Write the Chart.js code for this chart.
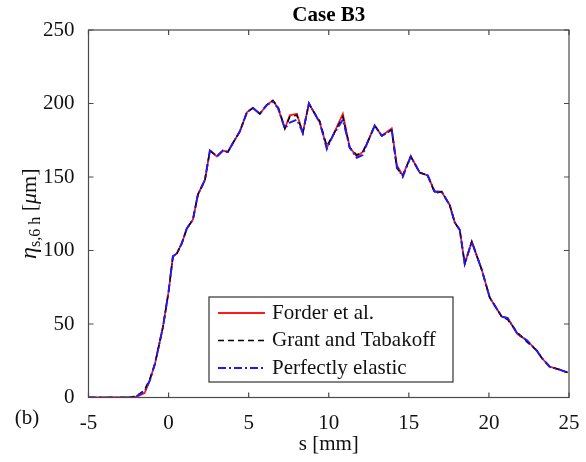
<!DOCTYPE html>
<html>
<head>
<meta charset="utf-8">
<script src="https://cdn.jsdelivr.net/npm/chart.js@4.4.1/dist/chart.umd.min.js"></script>
<style>
html,body{margin:0;padding:0;background:#fff;}
#wrap{width:586px;height:462px;position:relative;}
</style>
</head>
<body>
<div id="wrap"><canvas id="chart" width="586" height="462"></canvas></div>
<script>
/* DATA */

const sPos = [-5,-4,-3,-2.5,-2,-1.5,-1.16,-0.85,-0.35,0,0.27,0.52,0.83,1.14,1.52,1.83,2.27,2.58,3.02,3.39,3.7,4.01,4.45,4.89,5.26,5.7,6.13,6.51,6.83,7.26,7.57,8.01,8.38,8.76,9.13,9.44,9.88,10.25,10.88,11.31,11.75,12.12,12.44,12.87,13.31,13.93,14.25,14.62,15.12,15.68,16.18,16.62,17.05,17.55,17.87,18.18,18.49,18.93,19.55,20.05,20.8,21.17,21.8,22.36,22.98,23.29,23.79,24.41,24.91];

const forder = [0,0,0,0,0.5,3,12,23,48,72,96,98,105,115,121,138,148,168,164,168,167,173,181,194,197,193,199,202,197,183,192,193,180,200,193,187,170,178,193,170,164,167,174,185,178,183,158,151,164,153,151,140,140,131,119,114,91,106,87,68,55,54,43,39,32,27,21,19,17];

const grant = [0,0,0,0,1,5,13,23,48,72,96,98,105,115,121,138,148,168,164,168,167,173,181,194,197,193,199,202,198,183,191,192,180,200,193,188,171,178,191,170,165,167,174,185,178,182,156,151,164,153,151,139,140,131,119,114,91,106,87,68,55,53,44,38,32,27,21,19,17];

const elastic = [0,0,0,0,1,4,12,23,48,72,96,98,105,115,121,138,148,168,164,168,167,173,181,194,197,193,199,201,197,183,187,189,180,200,193,187,169,178,189,170,163,165,174,185,178,182,157,150,164,153,151,140,140,131,119,114,91,106,87,68,55,54,43,39,32,27,21,19,17];

const xTicks = [-5,0,5,10,15,20,25];
const yTicks = [0,50,100,150,200,250];

const serif = "'Liberation Serif','Times New Roman',serif";
const axisColor = "#4a4a4a";

function pts(arr){
return sPos.map((s,i)=>({x:s,y:arr[i]}));
}

/* BOX, INWARD TICKS, LABELS, LEGEND */

const decor = {
id:"decor",
afterDraw(chart){

const ctx = chart.ctx;
const a = chart.chartArea;
const xs = chart.scales.x;
const ys = chart.scales.y;

ctx.save();

// axes box
ctx.strokeStyle = axisColor;
ctx.lineWidth = 1.2;
ctx.strokeRect(a.left,a.top,a.right-a.left,a.bottom-a.top);

// inward ticks on all four sides
const tl = 5;
ctx.beginPath();
xTicks.forEach(v=>{
const px = xs.getPixelForValue(v);
ctx.moveTo(px,a.bottom); ctx.lineTo(px,a.bottom-tl);
ctx.moveTo(px,a.top); ctx.lineTo(px,a.top+tl);
});
yTicks.forEach(v=>{
const py = ys.getPixelForValue(v);
ctx.moveTo(a.left,py); ctx.lineTo(a.left+tl,py);
ctx.moveTo(a.right,py); ctx.lineTo(a.right-tl,py);
});
ctx.stroke();

// title
ctx.fillStyle = "#000";
ctx.font = "bold 21px " + serif;
ctx.textAlign = "center";
ctx.textBaseline = "middle";
ctx.fillText("Case B3",(a.left+a.right)/2,16);

// x label and panel tag
ctx.font = "21px " + serif;
ctx.fillStyle = "#111";
ctx.fillText("s [mm]",(a.left+a.right)/2,444);
ctx.fillText("(b)",27,418);

// y label with subscript
ctx.save();
ctx.translate(30,(a.top+a.bottom)/2);
ctx.rotate(-Math.PI/2);
const parts = [
{t:"η",f:"italic 24px "+serif,dy:0},
{t:"s,6 h",f:"16px "+serif,dy:6},
{t:" [",f:"22px "+serif,dy:0},
{t:"μ",f:"italic 22px "+serif,dy:0},
{t:"m]",f:"22px "+serif,dy:0}
];
let total = 0;
parts.forEach(p=>{ctx.font=p.f; p.w=ctx.measureText(p.t).width; total+=p.w;});
let cx = -total/2;
ctx.textAlign = "left";
parts.forEach(p=>{
ctx.font = p.f;
ctx.fillText(p.t,cx,p.dy);
cx += p.w;
});
ctx.restore();

// legend
const lx = a.left+120.5, ly = a.top+267, lw = 244, lh = 85;
ctx.fillStyle = "#fff";
ctx.fillRect(lx,ly,lw,lh);
ctx.strokeStyle = "#333";
ctx.lineWidth = 1.2;
ctx.strokeRect(lx,ly,lw,lh);

ctx.font = "21px " + serif;
ctx.textAlign = "left";
ctx.textBaseline = "middle";
chart.data.datasets.forEach((ds,i)=>{
const ry = ly + 16 + i*27.5;
ctx.beginPath();
ctx.strokeStyle = ds.borderColor;
ctx.lineWidth = ds.borderWidth;
ctx.setLineDash(ds.borderDash || []);
ctx.moveTo(lx+9,ry);
ctx.lineTo(lx+56,ry);
ctx.stroke();
ctx.setLineDash([]);
ctx.fillStyle = "#111";
ctx.fillText(ds.label,lx+63,ry);
});

ctx.restore();

}
};

/* CHART */

// lower order is drawn on top: blue over black over red
new Chart(document.getElementById("chart"),{
type:"line",
data:{
datasets:[
{label:"Forder et al.",data:pts(forder),borderColor:"#ff1a1a",borderWidth:1.8,order:2},
{label:"Grant and Tabakoff",data:pts(grant),borderColor:"#000000",borderWidth:1.6,borderDash:[6,4],order:1},
{label:"Perfectly elastic",data:pts(elastic),borderColor:"#1a1aff",borderWidth:1.9,borderDash:[8,3,2,3],order:0}
]
},
options:{
responsive:false,
animation:false,
events:[],
layout:{padding:{top:30,right:17,left:0,bottom:0}},
elements:{point:{radius:0},line:{tension:0}},
plugins:{legend:{display:false},tooltip:{enabled:false},title:{display:false}},
scales:{
x:{
type:"linear",min:-5,max:25,
afterFit(s){s.height=64.5;},
afterBuildTicks(s){s.ticks=xTicks.map(v=>({value:v}));},
grid:{display:false},
border:{display:false},
ticks:{color:"#111",padding:5,font:{family:serif,size:21},maxRotation:0}
},
y:{
min:0,max:250,
afterFit(s){s.width=88.5;},
afterBuildTicks(s){s.ticks=yTicks.map(v=>({value:v}));},
grid:{display:false},
border:{display:false},
ticks:{color:"#111",padding:6,font:{family:serif,size:21}}
}
}
},
plugins:[decor]
});
</script>
</body>
</html>
